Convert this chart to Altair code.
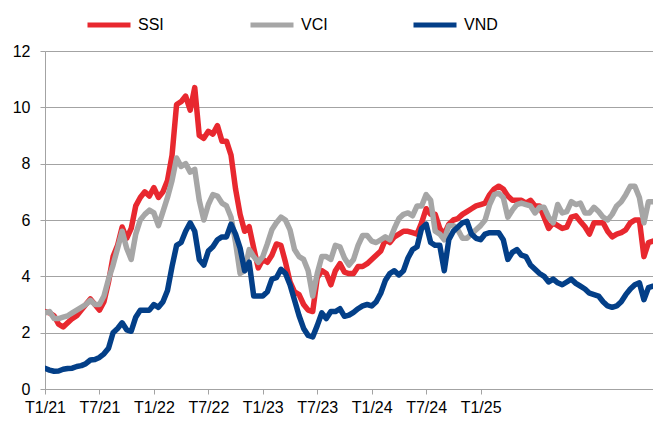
import json
import altair as alt
import pandas as pd

# Period index (Excel category axis); a label every 12 points
tick_labels = ["T1/21", "T7/21", "T1/22", "T7/22", "T1/23", "T7/23", "T1/24", "T7/24", "T1/25"]
series_names = ["SSI", "VCI", "VND"]
series_colors = ["#E8282F", "#A6A6A6", "#033F88"]

ssi = [2.75, 2.7, 2.6, 2.3, 2.2, 2.35, 2.5, 2.6, 2.8, 3.0,
       3.2, 3.0, 2.8, 3.1, 3.8, 4.7, 5.1, 5.75, 5.35, 5.7,
       6.5, 6.8, 7.0, 6.85, 7.15, 6.8, 7.0, 7.4, 8.3, 10.1,
       10.2, 10.4, 9.9, 10.7, 9.0, 8.9, 9.15, 9.05, 9.35, 8.8,
       8.8, 8.3, 7.1, 6.2, 5.6, 5.76, 5.0, 4.3, 4.6, 4.5,
       4.75, 5.15, 5.1, 4.5, 3.8, 3.45, 3.35, 3.0, 2.8, 2.75,
       3.95, 4.2, 4.1, 3.7, 4.2, 4.45, 4.15, 4.1, 4.1, 4.35,
       4.35, 4.45, 4.6, 4.75, 4.9, 5.3, 5.2, 5.4, 5.5, 5.6,
       5.6, 5.55, 5.5, 5.9, 6.4, 6.2, 6.2, 5.7, 5.5, 5.85,
       6.0, 6.05, 6.2, 6.3, 6.4, 6.5, 6.55, 6.6, 6.9, 7.1,
       7.2, 7.1, 6.85, 6.7, 6.7, 6.7, 6.6, 6.7, 6.5, 6.5,
       6.1, 5.7, 5.9, 5.8, 5.7, 5.75, 6.1, 6.15, 5.95, 5.76,
       5.5, 5.9, 5.9, 5.9, 5.6, 5.4, 5.5, 5.55, 5.65, 5.9,
       6.0, 6.0, 4.7, 5.2, 5.25]

vci = [2.7, 2.75, 2.5, 2.5, 2.55, 2.6, 2.7, 2.8, 2.9, 3.0,
       3.15, 3.0, 3.0, 3.3, 3.9, 4.4, 5.0, 5.6, 5.0, 4.6,
       5.5, 6.0, 6.2, 6.35, 6.25, 5.8, 6.3, 6.8, 7.4, 8.2,
       7.9, 8.0, 7.7, 7.8, 6.7, 6.0, 6.55, 6.9, 6.85, 6.6,
       6.5, 6.1, 5.2, 4.1, 4.2, 4.95, 4.7, 4.5, 4.7, 5.15,
       5.65, 5.9, 6.1, 6.0, 5.65, 4.95, 4.7, 4.6, 4.2, 3.3,
       4.1, 4.7, 4.7, 4.6, 5.1, 5.05, 4.65, 4.4, 4.6, 5.1,
       5.45, 5.45, 5.25, 5.2, 5.3, 5.4, 5.3, 5.7, 6.05, 6.2,
       6.25, 6.15, 6.5, 6.5, 6.9, 6.7, 5.6, 5.5, 5.3, 5.8,
       5.8, 5.65, 5.35, 5.35, 5.5, 5.65, 5.8, 6.0, 6.55, 6.9,
       6.95, 6.8, 6.1, 6.35, 6.55, 6.6, 6.55, 6.5, 6.25, 6.45,
       6.45, 6.1, 5.9, 6.55, 6.25, 6.3, 6.65, 6.55, 6.6, 6.25,
       6.25, 6.45, 6.3, 6.1, 6.0, 6.2, 6.5, 6.65, 6.9, 7.2,
       7.2, 6.8, 5.9, 6.65, 6.65]

vnd = [0.73, 0.67, 0.63, 0.64, 0.7, 0.73, 0.74, 0.8, 0.83, 0.9,
       1.03, 1.05, 1.12, 1.25, 1.45, 2.0, 2.15, 2.35, 2.1, 2.05,
       2.55, 2.8, 2.8, 2.8, 3.0, 2.9, 3.1, 3.5, 4.35, 5.1,
       5.2, 5.6, 5.9, 5.6, 4.6, 4.4, 4.9, 5.05, 5.3, 5.4,
       5.4, 5.85, 5.5, 5.0, 4.2, 4.5, 3.3, 3.3, 3.3, 3.45,
       3.9, 3.95, 4.25, 4.1, 3.7, 3.15, 2.6, 2.15, 1.9, 1.85,
       2.25, 2.7, 2.5, 2.75, 2.75, 2.85, 2.58, 2.62, 2.72, 2.85,
       2.95, 3.0, 2.95, 3.1, 3.4, 3.85, 4.1, 4.2, 4.05, 4.2,
       4.65, 4.95, 5.05, 5.7, 5.85, 5.2, 5.1, 5.1, 4.2, 5.3,
       5.6, 5.75, 5.9, 5.95, 5.5, 5.35, 5.3, 5.5, 5.55, 5.55,
       5.55, 5.3, 4.6, 4.85, 4.95, 4.75, 4.7, 4.4, 4.25, 4.1,
       4.0, 3.8, 3.9, 3.77, 3.7, 3.8, 3.9, 3.75, 3.65, 3.55,
       3.4, 3.35, 3.3, 3.1, 2.95, 2.9, 2.95, 3.1, 3.35, 3.55,
       3.7, 3.77, 3.17, 3.6, 3.65]

rows = []
for name, vals in zip(series_names, [ssi, vci, vnd]):
    for i, v in enumerate(vals):
        rows.append({"t": i, "series": name, "value": v})
df = pd.DataFrame(rows)

n_points = len(ssi)
tick_vals = [12 * k for k in range(len(tick_labels))]
label_expr = json.dumps(tick_labels) + "[round(datum.value / 12)]"

FONT = "Liberation Sans"
GRID = "#A3A3A3"

chart = (
    alt.Chart(df)
    .mark_line(strokeWidth=5.5, strokeJoin="round", strokeCap="round", clip=True)
    .encode(
        x=alt.X(
            "t:Q",
            scale=alt.Scale(domain=[0, n_points - 1], nice=False, zero=False),
            axis=alt.Axis(
                values=tick_vals,
                labelExpr=label_expr,
                grid=False,
                domainColor=GRID,
                tickColor=GRID,
                tickSize=5,
                labelPadding=5,
                labelFontSize=16,
                labelColor="#000000",
                labelFont=FONT,
                labelFlush=False,
                labelOverlap=False,
                title=None,
            ),
        ),
        y=alt.Y(
            "value:Q",
            scale=alt.Scale(domain=[0, 12], nice=False),
            axis=alt.Axis(
                values=[0, 2, 4, 6, 8, 10, 12],
                grid=True,
                gridColor=GRID,
                gridWidth=1.2,
                domainColor=GRID,
                tickColor=GRID,
                tickSize=5,
                labelPadding=10,
                labelFontSize=16,
                labelColor="#000000",
                labelFont=FONT,
                title=None,
            ),
        ),
        color=alt.Color(
            "series:N",
            scale=alt.Scale(domain=series_names, range=series_colors),
            legend=alt.Legend(
                title=None,
                orient="none",
                legendX=40,
                legendY=-50,
                direction="horizontal",
                symbolType="stroke",
                symbolSize=1849,
                symbolStrokeWidth=5,
                labelFontSize=16,
                labelFont=FONT,
                labelColor="#000000",
                labelOffset=5,
                columnPadding=68,
                gridAlign="all",
                padding=0,
            ),
        ),
    )
    .properties(
        width=608,
        height=338,
        autosize=alt.AutoSizeParams(type="none"),
        padding={"left": 37, "top": 43, "right": 0, "bottom": 30},
    )
    .configure_view(stroke="transparent")
    .configure(background="#FFFFFF")
)

chart.save("out.html", embed_options={"renderer": "svg", "actions": False})
